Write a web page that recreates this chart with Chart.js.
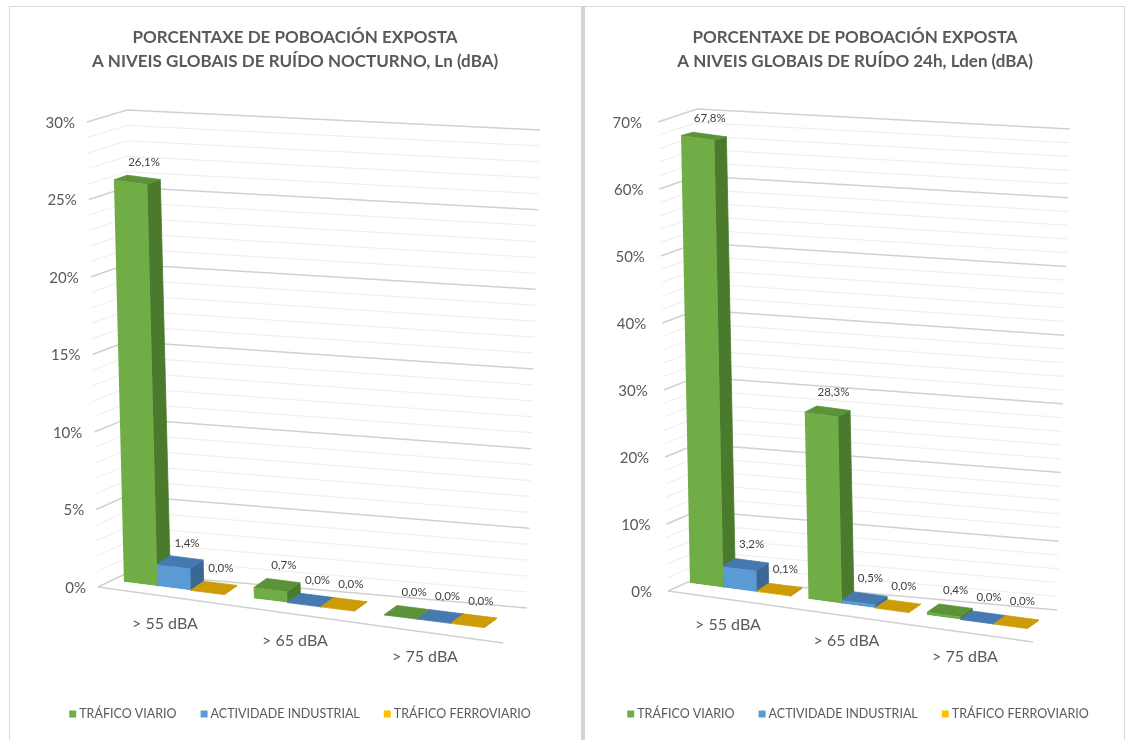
<!DOCTYPE html>
<html>
<head>
<meta charset="utf-8">
<script src="https://cdn.jsdelivr.net/npm/chart.js@4.4.0/dist/chart.umd.min.js"></script>
<style>
html, body { margin: 0; padding: 0; background: #fff; }
body { width: 1129px; height: 740px; position: relative; overflow: hidden; }
canvas { position: absolute; left: 0; top: 0; }
.ln { position: absolute; background: #d9d9d9; }
</style>
</head>
<body>
<div class="ln" style="left:9px;top:6px;width:1116px;height:1px"></div>
<div class="ln" style="left:9px;top:6px;width:1px;height:734px"></div>
<div class="ln" style="left:581px;top:6px;width:4px;height:734px;background:#d4d4d4"></div>
<div class="ln" style="left:1124px;top:6px;width:1px;height:734px"></div>
<canvas id="chartLn" width="1129" height="740"></canvas>
<canvas id="chartLden" width="1129" height="740"></canvas>
<script>
// --- data ---
const CATEGORIES = ['> 55 dBA', '> 65 dBA', '> 75 dBA'];
const SERIES_NAMES = ['TRÁFICO VIARIO', 'ACTIVIDADE INDUSTRIAL', 'TRÁFICO FERROVIARIO'];

const LN_VIARIO = [26.1, 0.7, 0.0];
const LN_INDUSTRIAL = [1.4, 0.0, 0.0];
const LN_FERROVIARIO = [0.0, 0.0, 0.0];
const LN_TITLE = ['PORCENTAXE DE POBOACIÓN EXPOSTA', 'A NIVEIS GLOBAIS DE RUÍDO NOCTURNO, Ln (dBA)'];
const LN_Y_MAX = 30;
const LN_Y_STEP = 5;

const LDEN_VIARIO = [67.8, 28.3, 0.4];
const LDEN_INDUSTRIAL = [3.2, 0.5, 0.0];
const LDEN_FERROVIARIO = [0.1, 0.0, 0.0];
const LDEN_TITLE = ['PORCENTAXE DE POBOACIÓN EXPOSTA', 'A NIVEIS GLOBAIS DE RUÍDO 24h, Lden (dBA)'];
const LDEN_Y_MAX = 70;
const LDEN_Y_STEP = 10;

// --- colours ---
const FRONT_COLORS = ['#70ad47', '#5b9bd5', '#ffc000'];
const SIDE_COLORS = ['#4a7a2c', '#3b6794', '#b38700'];
const TOP_COLORS = ['#5a933a', '#4579b0', '#cc9b05'];
const TEXT_COLOR = '#595959';
const FONT = 'Lato, "Open Sans", sans-serif';

// fake 3d look: shear of the bars + wall geometry per panel
const LN_VIEW = {
	area: { left: 109, right: 499, top: 120, bottom: 582 },
	x0: 125, y0: 582, skew: 0.127, lean: 0.025, catPct: 0.77,
	depth: { dx: 13, dyTop: 4, dyBot: 9 },
	wall: { cornerX: 127, off0: -9, offMax: -10, sideX0: 98, sideXmax: 87, sideDy0: 14, sideDyMax: 12,
		backX0: 527, backXmax: 540, backDy0: 35, backDyMax: 20 },
	floorEndX: 503, floorSlope: 0.138,
	minorStep: 1, majorStep: 5,
	titleX: 295, legendX: 300, legendY: 714,
	catDx: -9, catDy: 36, tickDx: -12, tickDy: 1,
	valDx: 7, valDy: -15,
};

const LDEN_VIEW = {
	area: { left: 680.75, right: 1036.25, top: 121, bottom: 583 },
	x0: 690, y0: 583, skew: 0.135, lean: 0.02, catPct: 0.844,
	depth: { dx: 12, dyTop: 3, dyBot: 8 },
	wall: { cornerX: 697, off0: -5, offMax: -12, sideX0: 668, sideXmax: 658, sideDy0: 13, sideDyMax: 13,
		backX0: 1057, backXmax: 1070, backDy0: 32, backDyMax: 20 },
	floorEndX: 1033, floorSlope: 0.14,
	minorStep: 2, majorStep: 10,
	titleX: 855, legendX: 858, legendY: 714,
	catDx: -12, catDy: 35, tickDx: -16, tickDy: 1,
	valDx: 6, valDy: -16,
};

const lerp = (a, b, t) => a + (b - a) * t;

function screenPt(view, x, y) {
	return { x: x + view.lean * (y - view.y0), y: y + view.skew * (x - view.x0) };
}

function depthAt(view, ys) {
	const t = (ys - view.area.top) / (view.area.bottom - view.area.top);
	return { x: view.depth.dx, y: -(view.depth.dyTop + (view.depth.dyBot - view.depth.dyTop) * t) };
}

function fillPoly(ctx, pts, color) {
	ctx.beginPath();
	ctx.moveTo(pts[0].x, pts[0].y);
	for (let i = 1; i < pts.length; i++) ctx.lineTo(pts[i].x, pts[i].y);
	ctx.closePath();
	ctx.fillStyle = color;
	ctx.strokeStyle = color;
	ctx.lineWidth = 0.8;
	ctx.fill();
	ctx.stroke();
}

function wallPoints(chart, view, v) {
	const y = chart.scales.y;
	const w = view.wall;
	const f = v / y.max;
	const cy = y.getPixelForValue(v) + lerp(w.off0, w.offMax, f);
	return {
		side: { x: lerp(w.sideX0, w.sideXmax, f), y: cy + lerp(w.sideDy0, w.sideDyMax, f) },
		corner: { x: w.cornerX, y: cy },
		back: { x: lerp(w.backX0, w.backXmax, f), y: cy + lerp(w.backDy0, w.backDyMax, f) },
	};
}

function drawWalls(chart, view) {
	const ctx = chart.ctx;
	const max = chart.scales.y.max;
	ctx.save();
	for (let v = 0; v <= max + 1e-6; v += view.minorStep) {
		const p = wallPoints(chart, view, v);
		const major = (v % view.majorStep) === 0;
		ctx.strokeStyle = major ? '#d0d0d0' : '#ececec';
		ctx.lineWidth = major ? 1.5 : 1;
		ctx.beginPath();
		ctx.moveTo(p.side.x, p.side.y);
		ctx.lineTo(p.corner.x, p.corner.y);
		ctx.lineTo(p.back.x, p.back.y);
		ctx.stroke();
	}
	// floor front edge
	const p0 = wallPoints(chart, view, 0).side;
	ctx.strokeStyle = '#d0d0d0';
	ctx.lineWidth = 1.5;
	ctx.beginPath();
	ctx.moveTo(p0.x, p0.y);
	ctx.lineTo(view.floorEndX, p0.y + view.floorSlope * (view.floorEndX - p0.x));
	ctx.stroke();
	ctx.restore();
}

function barCorners(view, bar) {
	const p = bar.getProps(['x', 'y', 'base', 'width'], true);
	const l = p.x - p.width / 2, r = p.x + p.width / 2;
	const top = Math.min(p.y, p.base), bot = Math.max(p.y, p.base);
	return {
		lt: screenPt(view, l, top), rt: screenPt(view, r, top),
		lb: screenPt(view, l, bot), rb: screenPt(view, r, bot),
	};
}

const add = (a, b) => ({ x: a.x + b.x, y: a.y + b.y });

function drawFaces(chart, view) {
	const ctx = chart.ctx;
	const metas = chart.getSortedVisibleDatasetMetas();
	ctx.save();
	for (let j = 0; j < CATEGORIES.length; j++) {
		for (const meta of metas) {
			const c = barCorners(view, meta.data[j]);
			const dTop = depthAt(view, c.rt.y);
			const dBot = depthAt(view, c.rb.y);
			fillPoly(ctx, [c.rt, add(c.rt, dTop), add(c.rb, dBot), c.rb], SIDE_COLORS[meta.index]);
			fillPoly(ctx, [c.lt, c.rt, add(c.rt, dTop), add(c.lt, dTop)], TOP_COLORS[meta.index]);
		}
	}
	ctx.restore();
}

function fmtPct(v) {
	return v.toFixed(1).replace('.', ',') + '%';
}

function drawValueLabels(chart, view) {
	const ctx = chart.ctx;
	ctx.save();
	ctx.font = '11.5px ' + FONT;
	ctx.fillStyle = '#404040';
	ctx.textAlign = 'center';
	ctx.textBaseline = 'middle';
	for (const meta of chart.getSortedVisibleDatasetMetas()) {
		const data = chart.data.datasets[meta.index].data;
		meta.data.forEach((bar, j) => {
			const c = barCorners(view, bar);
			const d = depthAt(view, c.rt.y);
			const cx = (c.lt.x + c.rt.x) / 2 + d.x / 2;
			const by = (c.lt.y + c.rt.y) / 2 + d.y;
			ctx.fillText(fmtPct(data[j]), cx + view.valDx, by + view.valDy);
		});
	}
	ctx.restore();
}

function drawAxisText(chart, view) {
	const ctx = chart.ctx;
	const xs = chart.scales.x, ys = chart.scales.y;
	ctx.save();
	ctx.fillStyle = TEXT_COLOR;
	ctx.textBaseline = 'middle';
	// value axis
	ctx.font = '15px ' + FONT;
	ctx.textAlign = 'right';
	let ticks = ys.ticks.map(t => t.value);
	if (!ticks.length) {
		for (let v = 0; v <= ys.max; v += ys.options.ticks.stepSize) ticks.push(v);
	}
	ticks.forEach(v => {
		const p = wallPoints(chart, view, v).side;
		ctx.fillText(v + '%', p.x + view.tickDx, p.y + view.tickDy);
	});
	// categories
	ctx.font = '16px ' + FONT;
	ctx.textAlign = 'center';
	CATEGORIES.forEach((label, i) => {
		const s = screenPt(view, xs.getPixelForValue(i), ys.getPixelForValue(0));
		ctx.fillText(label, s.x + view.catDx, s.y + view.catDy);
	});
	ctx.restore();
}

function drawTitle(chart, view, title) {
	const ctx = chart.ctx;
	ctx.save();
	ctx.font = 'bold 17px ' + FONT;
	ctx.fillStyle = TEXT_COLOR;
	ctx.textAlign = 'center';
	ctx.textBaseline = 'middle';
	title.forEach((line, i) => ctx.fillText(line, view.titleX, 38 + i * 24));
	ctx.restore();
}

function drawLegend(chart, view) {
	const ctx = chart.ctx;
	ctx.save();
	ctx.font = '12.5px ' + FONT;
	ctx.textBaseline = 'middle';
	ctx.textAlign = 'left';
	const items = chart.data.datasets.map((ds, i) => ({ text: ds.label, color: FRONT_COLORS[i], w: 10 + ctx.measureText(ds.label).width }));
	const gap = 24;
	const total = items.reduce((s, it) => s + it.w, 0) + gap * (items.length - 1);
	let x = view.legendX - total / 2;
	items.forEach(it => {
		ctx.fillStyle = it.color;
		ctx.fillRect(x, view.legendY - 3.5, 7, 7);
		ctx.fillStyle = TEXT_COLOR;
		ctx.fillText(it.text, x + 10, view.legendY);
		x += it.w + gap;
	});
	ctx.restore();
}

function panelPlugin(view, title) {
	return {
		id: 'panel3d',
		beforeDatasetsDraw: (chart) => {
			drawWalls(chart, view);
			drawFaces(chart, view);
			chart.ctx.save();
			chart.ctx.transform(1, view.skew, view.lean, 1, -view.lean * view.y0, -view.skew * view.x0);
		},
		afterDatasetsDraw: (chart) => {
			chart.ctx.restore();
			drawValueLabels(chart, view);
		},
		afterDraw: (chart) => {
			drawAxisText(chart, view);
			drawTitle(chart, view, title);
			drawLegend(chart, view);
		},
	};
}

function makeChart(id, title, series, yMax, yStep, view) {
	const a = view.area;
	return new Chart(document.getElementById(id), {
		type: 'bar',
		data: {
			labels: CATEGORIES,
			datasets: series.map((values, i) => ({
				label: SERIES_NAMES[i],
				data: values,
				backgroundColor: FRONT_COLORS[i],
				borderWidth: 0,
				barPercentage: 1,
				categoryPercentage: view.catPct,
			})),
		},
		options: {
			responsive: false,
			animation: false,
			devicePixelRatio: 1,
			events: [],
			layout: {
				padding: { left: a.left, right: 1129 - a.right, top: a.top, bottom: 740 - a.bottom },
			},
			scales: {
				x: { type: 'category', display: false },
				y: { type: 'linear', display: false, min: 0, max: yMax, ticks: { stepSize: yStep } },
			},
			plugins: {
				legend: { display: false },
				title: { display: false },
				tooltip: { enabled: false },
			},
		},
		plugins: [panelPlugin(view, title)],
	});
}

makeChart('chartLn', LN_TITLE, [LN_VIARIO, LN_INDUSTRIAL, LN_FERROVIARIO], LN_Y_MAX, LN_Y_STEP, LN_VIEW);
makeChart('chartLden', LDEN_TITLE, [LDEN_VIARIO, LDEN_INDUSTRIAL, LDEN_FERROVIARIO], LDEN_Y_MAX, LDEN_Y_STEP, LDEN_VIEW);
</script>
</body>
</html>
